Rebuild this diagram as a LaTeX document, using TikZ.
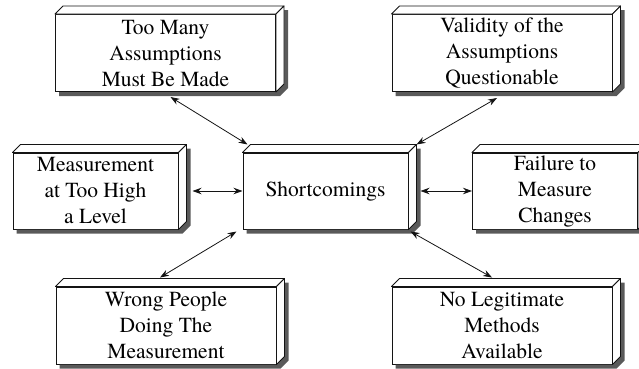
\documentclass[tikz,border=0pt]{standalone}
\usepackage{fontspec}
\setmainfont{TeX Gyre Termes}
\usetikzlibrary{arrows.meta, positioning, calc}
\definecolor{shadowGray}{RGB}{90, 90, 90}
\definecolor{lineBlack}{RGB}{20, 20, 20}

\begin{document}
\begin{tikzpicture}[
    x=1pt, y=1pt,
    % Node styles
    box/.style={
        rectangle,
        draw=lineBlack,
        fill=white,
        line width=1pt,
        minimum width=220pt,
        minimum height=77pt,
        inner sep=0pt,
        align=center,
        font=\fontsize{21.5}{26}\selectfont
    },
    midbox/.style={
        box,
        minimum width=165pt,
        minimum height=76pt
    },
    face/.style={
        draw=lineBlack,
        fill=white,
        line width=0.9pt,
        line join=round
    },
    link/.style={
        <->,
        >={Stealth[length=9pt, width=6.5pt]},
        line width=0.8pt,
        color=lineBlack
    }
]
\useasboundingbox (0,0) rectangle (639,368);

% Boxes
\node[box] (tma) at (165.5,315) {Too Many\\Assumptions\\Must Be Made};
\node[box] (vat) at (502,315) {Validity of the\\Assumptions\\Questionable};
\node[midbox] (ml) at (95.5,177) {Measurement\\at Too High\\a Level};
\node[midbox] (sc) at (325.5,177) {Shortcomings};
\node[midbox] (fm) at (555,177) {Failure to\\Measure\\Changes};
\node[box] (wp) at (166,42.5) {Wrong People\\Doing The\\Measurement};
\node[box] (nl) at (502,42.5) {No Legitimate\\Methods\\Available};

% Depth faces and shadows
\foreach \n in {tma,vat,ml,sc,fm,wp,nl} {
    \fill[shadowGray] ([shift={(4,-4)}]\n.south west) -- ([shift={(4,-4)}]\n.south east)
        -- ([shift={(12,4)}]\n.south east) -- ([shift={(12,4)}]\n.north east)
        -- ([shift={(8,4)}]\n.north east) -- ([shift={(8,8)}]\n.south east)
        -- (\n.south east) -- ([xshift=4pt]\n.south west) -- cycle;
    \draw[face] (\n.north west) -- ([shift={(8,8)}]\n.north west)
        -- ([shift={(8,8)}]\n.north east) -- (\n.north east) -- cycle;
    \draw[face] (\n.north east) -- ([shift={(8,8)}]\n.north east)
        -- ([shift={(8,8)}]\n.south east) -- (\n.south east) -- cycle;
}

% Arrows
\draw[link] ([shift={(5,-5)}]tma.south) -- ([shift={(5,8)}]sc.north west);
\draw[link] ([shift={(-5,-6)}]vat.south) -- ([shift={(8,8)}]sc.north east);
\draw[link] ([xshift=14pt]ml.east) -- (sc.west);
\draw[link] ([xshift=12pt]sc.east) -- (fm.west);
\draw[link] ([shift={(-6,-2)}]sc.south west) -- ([shift={(-6,9)}]wp.north);
\draw[link] ([shift={(2,-2)}]sc.south east) -- ([shift={(-10,9)}]nl.north);

\end{tikzpicture}
\end{document}
